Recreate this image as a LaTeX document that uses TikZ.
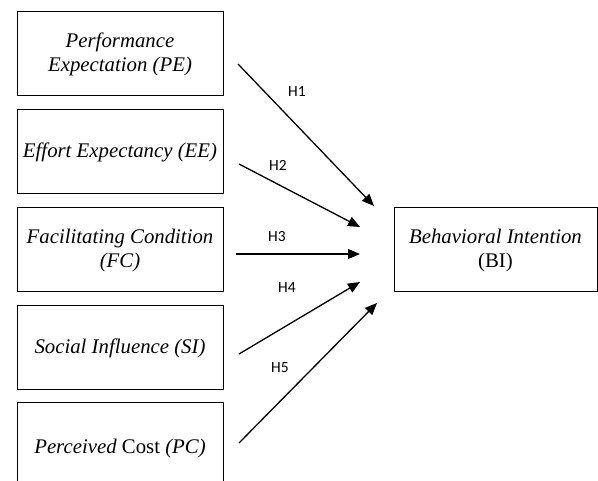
\documentclass[tikz,border=0pt]{standalone}
\usepackage{fontspec}
\setmainfont{Liberation Serif}[ItalicFont=Liberation Serif Italic, BoldFont=Liberation Serif Bold]
\newfontfamily\labelfont{Carlito}
\usetikzlibrary{arrows.meta}
\begin{document}
\begin{tikzpicture}[x=1pt,y=-1pt,
  box/.style={draw, line width=1pt, minimum width=206pt, minimum height=84pt, inner sep=0pt, align=center,
    font=\fontsize{20.8}{24}\selectfont\itshape},
  hyp/.style={line width=1.3pt, -{Triangle[length=12pt,width=10pt]}},
  hlab/.style={font=\labelfont\fontsize{15.5}{18}\selectfont, inner sep=0pt}]
\clip (0,0) rectangle (598,481);
\node[box] (pe) at (120,54) {Performance\\Expectation (PE)};
\node[box] (ee) at (120,152) {Effort Expectancy (EE)};
\node[box] (fc) at (120,250) {Facilitating Condition\\(FC)};
\node[box] (si) at (120,348) {Social Influence (SI)};
\node[box, minimum height=90pt] (pc) at (120,448) {Perceived \textup{Cost} (PC)};
\node[box, minimum width=203pt] (bi) at (495.5,250) {Behavioral Intention\\\textup{(BI)}};
\coordinate (s1) at (238,64);  \coordinate (e1) at (374,206);
\coordinate (s2) at (239,164); \coordinate (e2) at (360,227);
\coordinate (s3) at (236,254); \coordinate (e3) at (360,254);
\coordinate (s4) at (239,354); \coordinate (e4) at (360,282);
\coordinate (s5) at (239,443); \coordinate (e5) at (377,303);
\draw[hyp] (s1) -- (e1);
\draw[hyp] (s2) -- (e2);
\draw[hyp] (s3) -- (e3);
\draw[hyp] (s4) -- (e4);
\draw[hyp] (s5) -- (e5);
\node[hlab] (h1) at (297,92) {H1};
\node[hlab] (h2) at (278,165) {H2};
\node[hlab] (h3) at (277,237) {H3};
\node[hlab] (h4) at (287,288) {H4};
\node[hlab] (h5) at (280,368) {H5};
\end{tikzpicture}
\end{document}
